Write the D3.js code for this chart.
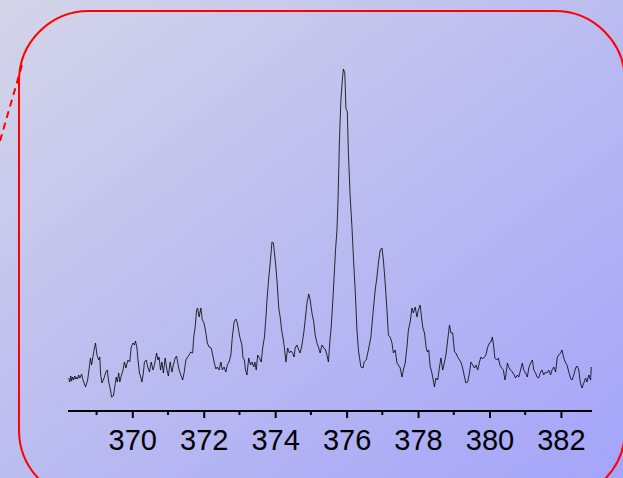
<!DOCTYPE html>
<html>
<head>
<meta charset="utf-8">
<script src="https://d3js.org/d3.v7.min.js"></script>
<style>
  html, body { margin: 0; padding: 0; }
  body { width: 623px; height: 478px; overflow: hidden; }
  .tick-label { font-family: "Liberation Sans", Arial, sans-serif; font-size: 29px; fill: #000; }
</style>
</head>
<body>
<svg id="chart" width="623" height="478"></svg>
<script>
// spectrum (wavelength, intensity in arbitrary units)
var wavelength = [
  368.22,368.25,368.28,368.30,368.33,368.36,368.39,368.42,368.44,368.47,368.50,368.53,368.55,368.58,368.62,368.69,368.75,368.83,368.86,368.93,
  368.97,369.01,369.06,369.09,369.11,369.15,369.21,369.26,369.30,369.34,369.39,369.42,369.47,369.51,369.55,369.58,369.62,369.65,369.69,369.74,
  369.78,369.82,369.88,369.93,369.97,370.02,370.06,370.09,370.13,370.16,370.20,370.23,370.27,370.31,370.34,370.39,370.44,370.48,370.53,370.58,
  370.62,370.68,370.72,370.75,370.79,370.83,370.87,370.92,370.97,371.01,371.06,371.11,371.15,371.20,371.24,371.27,371.31,371.36,371.41,371.45,
  371.50,371.55,371.59,371.64,371.69,371.72,371.76,371.80,371.83,371.87,371.92,371.96,372.01,372.06,372.10,372.15,372.21,372.24,372.29,372.34,
  372.38,372.43,372.48,372.52,372.57,372.62,372.66,372.71,372.76,372.80,372.85,372.90,372.94,373.01,373.07,373.10,373.14,373.17,373.21,373.26,
  373.31,373.35,373.40,373.43,373.47,373.51,373.56,373.61,373.65,373.70,373.75,373.77,373.82,373.85,373.88,373.91,373.95,373.98,374.01,374.05,
  374.10,374.14,374.18,374.22,374.26,374.30,374.35,374.40,374.44,374.49,374.53,374.56,374.61,374.66,374.70,374.75,374.80,374.84,374.89,374.94,
  374.98,375.03,375.08,375.12,375.17,375.21,375.26,375.31,375.36,375.40,375.45,375.49,375.53,375.57,375.62,375.65,375.69,375.73,375.76,375.80,
  375.84,375.88,375.91,375.95,375.98,376.02,376.05,376.10,376.15,376.19,376.24,376.29,376.33,376.40,376.46,376.49,376.55,376.61,376.68,376.73,
  376.80,376.85,376.89,376.94,376.99,377.03,377.08,377.13,377.17,377.22,377.27,377.31,377.36,377.41,377.45,377.50,377.55,377.59,377.64,377.69,
  377.73,377.78,377.83,377.87,377.92,377.97,378.01,378.06,378.09,378.13,378.18,378.23,378.26,378.30,378.34,378.37,378.41,378.46,378.50,378.55,
  378.60,378.64,378.69,378.74,378.78,378.83,378.88,378.92,378.97,379.02,379.06,379.11,379.16,379.20,379.25,379.30,379.34,379.39,379.44,379.48,
  379.53,379.58,379.62,379.67,379.72,379.76,379.81,379.86,379.90,379.95,380.00,380.04,380.08,380.12,380.15,380.20,380.25,380.29,380.34,380.39,
  380.43,380.46,380.50,380.55,380.59,380.64,380.69,380.73,380.78,380.82,380.87,380.92,380.96,381.01,381.06,381.10,381.15,381.20,381.24,381.29,
  381.33,381.38,381.43,381.47,381.52,381.57,381.61,381.66,381.71,381.75,381.80,381.85,381.90,381.94,381.99,382.03,382.08,382.12,382.17,382.22,
  382.27,382.31,382.36,382.41,382.45,382.50,382.54,382.59,382.64,382.69,382.73,382.78,382.83,382.85
];
var intensity = [
  33,29,35,30,34,31,35,32,34,32,36,33,34,37,31,24,31,53,46,61,
  68,56,51,54,38,28,33,39,41,29,21,14,15,24,34,29,38,29,35,41,
  49,43,51,49,64,68,66,70,63,51,38,35,29,38,49,51,43,39,49,41,
  46,58,51,54,41,49,38,53,41,35,49,39,46,53,55,49,41,36,31,38,
  51,54,56,59,58,74,84,101,103,94,103,91,88,78,68,64,63,58,49,42,
  44,41,49,41,44,39,46,49,56,74,89,92,88,74,66,53,51,41,36,53,
  46,49,44,49,41,56,53,49,63,74,98,111,133,144,156,169,168,158,148,131,
  103,94,81,73,63,49,63,58,60,58,54,63,66,61,58,66,78,91,108,117,
  111,98,89,76,68,64,58,66,63,62,56,49,69,85,114,134,161,181,211,271,
  311,331,342,338,303,299,258,214,184,154,121,81,61,44,43,49,51,61,74,94,
  121,134,148,161,163,151,128,101,76,74,68,58,61,48,46,43,34,41,48,64,
  81,89,103,98,104,94,101,106,96,84,78,63,59,61,44,41,34,24,33,31,
  44,53,41,49,56,71,86,78,78,59,58,54,51,49,43,34,28,29,38,49,
  46,43,46,41,49,54,52,54,56,64,68,69,74,64,53,51,53,46,43,41,
  31,36,48,43,41,39,36,33,36,34,41,48,41,38,34,43,48,51,41,38,
  34,33,39,41,36,39,38,41,36,41,44,39,54,56,58,61,53,49,46,39,
  33,31,36,43,45,41,29,23,28,33,29,36,31,44
];
var xDomain = [368.2, 382.87];
var yDomain = [0, 342];
var majorTicks = [370, 372, 374, 376, 378, 380, 382];
var minorTicks = [369, 371, 373, 375, 377, 379, 381];

var svg = d3.select("#chart");

// background gradient
var defs = svg.append("defs");
var grad = defs.append("linearGradient")
  .attr("id", "bg")
  .attr("x1", "0%").attr("y1", "0%")
  .attr("x2", "100%").attr("y2", "100%");
grad.append("stop").attr("offset", "0%").attr("stop-color", "#d4d5e8");
grad.append("stop").attr("offset", "50%").attr("stop-color", "#bbbcf0");
grad.append("stop").attr("offset", "100%").attr("stop-color", "#a4a4fa");

svg.append("rect")
  .attr("width", 623).attr("height", 478)
  .attr("fill", "url(#bg)");

// red frame
svg.append("rect")
  .attr("x", 19).attr("y", 11)
  .attr("width", 606).attr("height", 489)
  .attr("rx", 70).attr("ry", 70)
  .attr("fill", "none")
  .attr("stroke", "#ff0000")
  .attr("stroke-width", 2);

svg.append("line")
  .attr("x1", 0).attr("y1", 141)
  .attr("x2", 22).attr("y2", 65)
  .attr("stroke", "#ff0000")
  .attr("stroke-width", 2)
  .attr("stroke-dasharray", "7,5");

var x = d3.scaleLinear().domain(xDomain).range([68, 592]);
var y = d3.scaleLinear().domain(yDomain).range([411, 69]);

// spectrum
var pts = wavelength.map(function(w, i) { return [w, intensity[i]]; });
var line = d3.line()
  .x(function(d) { return x(d[0]); })
  .y(function(d) { return y(d[1]); });

svg.append("path")
  .datum(pts)
  .attr("d", line)
  .attr("fill", "none")
  .attr("stroke", "#000")
  .attr("stroke-width", 0.8)
  .attr("stroke-linejoin", "round");

// x axis
var axisY = 411;
var xAxis = d3.axisBottom(x)
  .tickValues(majorTicks)
  .tickSize(7)
  .tickPadding(11)
  .tickFormat(d3.format("d"));

var gAxis = svg.append("g")
  .attr("transform", "translate(0," + axisY + ")")
  .call(xAxis);

gAxis.select(".domain")
  .attr("d", "M" + x(xDomain[0]) + ",0H" + x(xDomain[1]))
  .attr("stroke", "#000")
  .attr("stroke-width", 2.2);
gAxis.selectAll(".tick line").attr("stroke", "#000").attr("stroke-width", 2);
gAxis.selectAll(".tick text")
  .attr("class", "tick-label")
  .attr("font-family", null)
  .attr("font-size", null);

svg.append("g")
  .selectAll("line")
  .data(minorTicks)
  .join("line")
  .attr("x1", function(d) { return x(d); })
  .attr("x2", function(d) { return x(d); })
  .attr("y1", axisY)
  .attr("y2", axisY + 4)
  .attr("stroke", "#000")
  .attr("stroke-width", 2);
</script>
</body>
</html>
